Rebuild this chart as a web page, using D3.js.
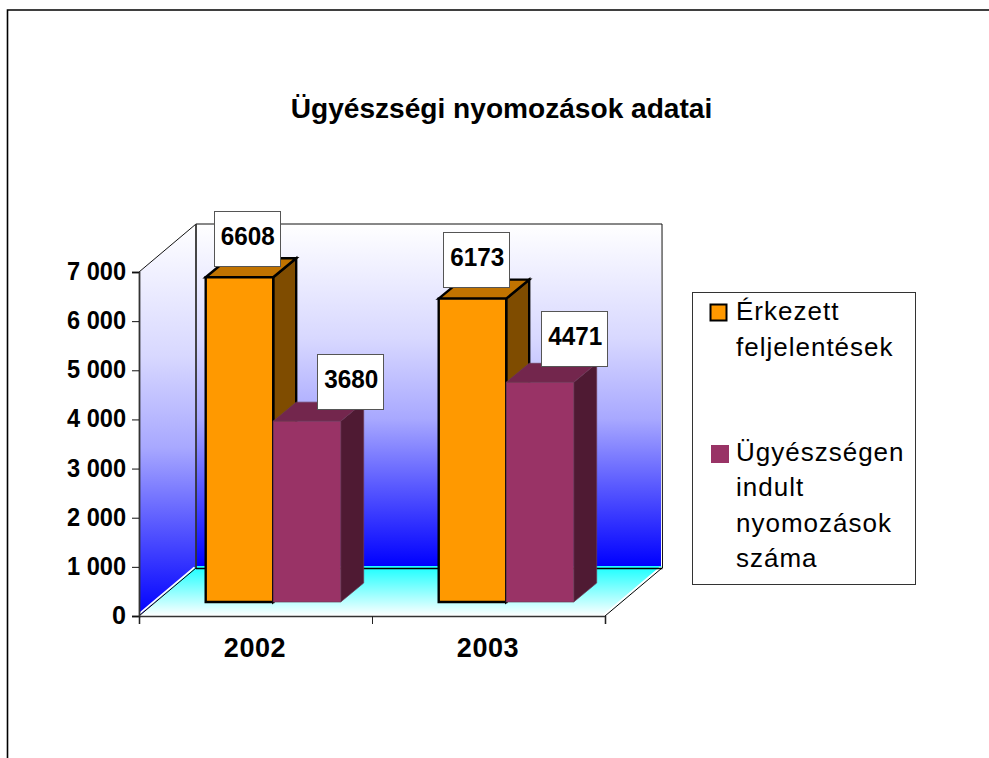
<!DOCTYPE html>
<html><head><meta charset="utf-8">
<script src="https://cdn.jsdelivr.net/npm/d3@7/dist/d3.min.js"></script>
<style>html,body{margin:0;padding:0;background:#fff;overflow:hidden}svg{display:block}text{font-family:"Liberation Sans",Arial,sans-serif}</style>
</head><body><div id="c"></div>
<script>
const categories = ["2002", "2003"];
const seriesNames = ["Érkezett feljelentések", "Ügyészségen indult nyomozások száma"];
const received = [6608, 6173];
const opened = [3680, 4471];
const yTickValues = [0, 1000, 2000, 3000, 4000, 5000, 6000, 7000];
const legendLines = [["Érkezett", "feljelentések"], ["Ügyészségen", "indult", "nyomozások", "száma"]];

const W = 989, H = 758;
const svg = d3.select("#c").append("svg").attr("width", W).attr("height", H);
const x = d3.scaleBand().domain(categories).range([139, 605]);
const y = d3.scaleLinear().domain([0, 7000]).range([616, 272]);
const inner = d3.scaleBand().domain(seriesNames).range([0, x.bandwidth()]).paddingInner(0).paddingOuter(0.726);
const depth = {dx: 57, dy: -48};
const bar = {ox: 17.7, oy: -14, dx: 23, dy: -19};
const fmt = d3.formatLocale({decimal: ",", thousands: " ", grouping: [3], currency: ["", ""]}).format(",d");

const defs = svg.append("defs");
function grad(id, y1, y2, stops) {
  const g = defs.append("linearGradient").attr("id", id).attr("gradientUnits", "userSpaceOnUse")
    .attr("x1", 0).attr("x2", 0).attr("y1", y1).attr("y2", y2);
  stops.forEach(s => g.append("stop").attr("offset", s[0]).attr("stop-color", s[1]));
}
const y0 = y(0), yT = y(7000);
const wallStops = [[0, "#fff"], [0.335, "#d8d8ff"], [0.57, "#a8a8ff"], [0.765, "#5a5aff"], [1, "#0000ff"]];
grad("back", yT + depth.dy, y0 + depth.dy - 2, wallStops);
grad("side", yT + depth.dy, y0, wallStops);
grad("floor", y0 + depth.dy, y0, [[0, "#22ffff"], [1, "#fff"]]);

// outer frame
svg.append("path").attr("d", `M7.5,${H}V10H${W}`).attr("fill", "none").attr("stroke", "#000").attr("stroke-width", 1.6);

// title
svg.append("text").attr("x", 501.5).attr("y", 118).attr("text-anchor", "middle")
  .attr("font-size", 28.1).attr("font-weight", "bold").text("Ügyészségi nyomozások adatai");

// walls
const xL = x.range()[0], xR = x.range()[1], d = depth;
const poly = pts => "M" + pts.map(p => p.join(",")).join("L") + "Z";
svg.append("path").attr("d", poly([[xL, yT], [xL + d.dx, yT + d.dy], [xL + d.dx, y0 + d.dy], [xL, y0]])).attr("fill", "url(#side)");
svg.append("path").attr("d", poly([[xL + d.dx, yT + d.dy], [xR + d.dx - 1, yT + d.dy], [xR + d.dx - 1, y0 + d.dy - 2], [xL + d.dx, y0 + d.dy - 2]])).attr("fill", "url(#back)");
svg.append("path").attr("d", poly([[xL, y0], [xL + d.dx, y0 + d.dy - 2], [xR + d.dx, y0 + d.dy - 2], [xR, y0]])).attr("fill", "url(#floor)");
const edge = (pts, w, c) => svg.append("path").attr("d", "M" + pts.map(p => p.join(",")).join("L")).attr("fill", "none").attr("stroke", c).attr("stroke-width", w);
const shift = (p, ox, oy) => [p[0] + ox, p[1] + oy];
[[[xL, y0], [xL + d.dx, y0 + d.dy]], [[xR, y0], [xR + d.dx, y0 + d.dy]]].forEach(seg => {
  edge(seg.map(p => shift(p, -1.6, -0.6)), 1.8, "#fff");
  edge(seg, 1, "#000");
});
edge([[xL, yT], [xL + d.dx, yT + d.dy], [xR + d.dx, yT + d.dy], [xR + d.dx + 0.5, y0 + d.dy]], 1, "#111");
edge([[xL + d.dx, yT + d.dy], [xL + d.dx, y0 + d.dy]], 1.8, "#333");
edge([[xL + d.dx, y0 + d.dy + 0.5], [xR + d.dx + 0.5, y0 + d.dy + 0.5]], 1.4, "#000");

// bars
const styles = [
  {front: "#ff9900", side: "#7f4c00", top: "#c17300", stroke: "#000", sw: 2.4},
  {front: "#993366", side: "#4f1a33", top: "#73264d", stroke: "#6b3a55", sw: 0.7}
];
const values = [received, opened];
categories.forEach((cat, i) => {
  seriesNames.forEach((s, k) => {
    const st = styles[k], v = values[k][i];
    const l = x(cat) + inner(s) + bar.ox, r = l + inner.bandwidth();
    const t = y(v) + bar.oy, b = y(0) + bar.oy;
    const g = svg.append("g").attr("stroke", st.stroke).attr("stroke-width", st.sw).attr("stroke-linejoin", "miter");
    g.append("path").attr("d", poly([[r, t], [r + bar.dx, t + bar.dy], [r + bar.dx, b + bar.dy], [r, b]])).attr("fill", st.side);
    g.append("path").attr("d", poly([[l, t], [l + bar.dx, t + bar.dy], [r + bar.dx, t + bar.dy], [r, t]])).attr("fill", st.top);
    g.append("path").attr("d", poly([[l, t], [r, t], [r, b], [l, b]])).attr("fill", st.front);
  });
});

// axes
const axY = svg.append("g").attr("transform", `translate(${xL},0)`)
  .call(d3.axisLeft(y).tickValues(yTickValues).tickFormat(fmt).tickSize(7).tickPadding(6));
axY.select("path").attr("stroke", "#333").attr("stroke-width", 1.8);
axY.selectAll("line").attr("stroke", "#111").attr("stroke-width", 1);
axY.selectAll("text").attr("font-size", 26).attr("font-weight", "bold").attr("fill", "#000")
  .attr("font-family", '"Liberation Sans",Arial,sans-serif')
  .attr("dy", "0.29em")
  .attr("textLength", function () { return this.textContent.length > 1 ? 59 : 14; })
  .attr("lengthAdjust", "spacingAndGlyphs");
const axX = svg.append("g").attr("transform", `translate(0,${y0})`)
  .call(d3.axisBottom(d3.scaleLinear().domain([0, 2]).range([xL, xR])).tickValues([0, 1, 2]).tickFormat("").tickSize(8));
axX.select("path").attr("stroke", "#333").attr("stroke-width", 1.6);
axX.selectAll("line").attr("stroke", "#222").attr("stroke-width", 1);
categories.forEach(c => {
  svg.append("text").attr("x", x(c) + x.bandwidth() / 2 - 0.5).attr("y", 657).attr("text-anchor", "middle")
    .attr("font-size", 27).attr("font-weight", "bold").attr("letter-spacing", 0.6).text(c);
});

// data labels (box offset from each bar's top-front centre)
const labelOffsets = [[[7.3, -11], [43.3, -12.5]], [[3.8, -12], [34.3, -16]]];
const boxW = 66, boxH = 55;
categories.forEach((cat, i) => {
  seriesNames.forEach((s, k) => {
    const v = values[k][i];
    const cx = x(cat) + inner(s) + bar.ox + inner.bandwidth() / 2 + labelOffsets[i][k][0];
    const bot = y(v) + bar.oy + labelOffsets[i][k][1];
    svg.append("rect").attr("x", Math.round(cx - boxW / 2) + 0.5).attr("y", Math.round(bot - boxH) + 0.5).attr("width", boxW).attr("height", boxH)
      .attr("fill", "#fff").attr("stroke", "#555").attr("stroke-width", 1);
    svg.append("text").attr("x", cx + 1).attr("y", bot - boxH + 34).attr("text-anchor", "middle")
      .attr("font-size", 26.5).attr("font-weight", "bold")
      .attr("textLength", 54).attr("lengthAdjust", "spacingAndGlyphs").text(v);
  });
});

// legend
svg.append("rect").attr("x", 692.5).attr("y", 292.5).attr("width", 223).attr("height", 292)
  .attr("fill", "#fff").attr("stroke", "#333").attr("stroke-width", 1);
svg.append("rect").attr("x", 710.5).attr("y", 304.5).attr("width", 16).attr("height", 16)
  .attr("fill", styles[0].front).attr("stroke", "#000").attr("stroke-width", 2);
svg.append("rect").attr("x", 711).attr("y", 445).attr("width", 18).attr("height", 18)
  .attr("fill", styles[1].front);
const legendBase = [[320, 356], [461, 496, 532, 567]];
legendLines.forEach((lines, k) => lines.forEach((ln, j) => {
  svg.append("text").attr("x", 736).attr("y", legendBase[k][j]).attr("font-size", 26).attr("letter-spacing", 1).text(ln);
}));
</script></body></html>
